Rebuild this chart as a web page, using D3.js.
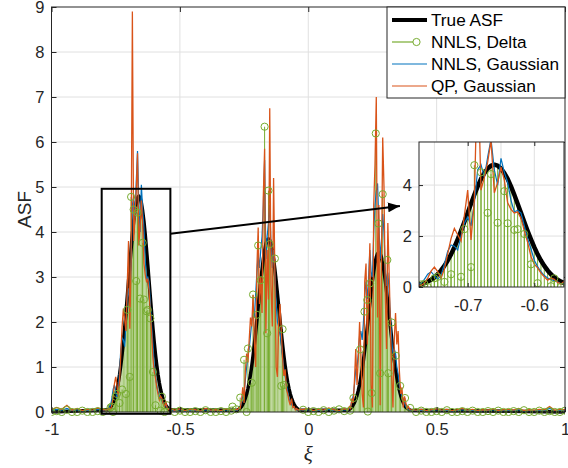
<!DOCTYPE html>
<html>
<head>
<meta charset="utf-8">
<script src="https://cdn.jsdelivr.net/npm/d3@7"></script>
<style>
body { margin: 0; background: #fff; }
svg { font-family: "Liberation Sans", Arial, sans-serif; }
</style>
</head>
<body>
<div id="chart"></div>
<script>
// ---- data ----
// the three peaks are sampled every 0.005 starting at peakStart
const step = 0.005;
const peakStart = [-0.78, -0.275, 0.155];

const trueP1 = [0.05,0.08,0.11,0.15,0.21,0.29,0.38,0.50,0.65,0.83,1.04,1.28,1.56,1.87,2.20,2.55,2.91,3.27,3.62,3.95,4.24,4.47,4.65,4.76,4.80,4.76,4.65,4.47,4.24,3.95,3.62,3.27,2.91,2.55,2.20,1.87,1.56,1.28,1.04,0.83,0.65,0.50,0.38,0.29,0.21,0.15,0.11,0.08,0.05];
const trueP2 = [0.04,0.06,0.09,0.12,0.17,0.23,0.31,0.40,0.52,0.66,0.83,1.03,1.25,1.50,1.76,2.04,2.34,2.63,2.91,3.17,3.40,3.59,3.73,3.82,3.85,3.82,3.73,3.59,3.40,3.17,2.91,2.63,2.34,2.04,1.76,1.50,1.25,1.03,0.83,0.66,0.52,0.40,0.31,0.23,0.17,0.12,0.09,0.06,0.04];
const trueP3 = [0.04,0.06,0.08,0.11,0.16,0.21,0.28,0.37,0.48,0.61,0.77,0.95,1.15,1.38,1.63,1.89,2.15,2.42,2.68,2.92,3.13,3.31,3.44,3.52,3.55,3.52,3.44,3.31,3.13,2.92,2.68,2.42,2.15,1.89,1.63,1.38,1.15,0.95,0.77,0.61,0.48,0.37,0.28,0.21,0.16,0.11,0.08,0.06,0.04];

const nnlsP1 = [0.05,0.10,0.15,0.30,0.50,0.60,0.45,0.30,0.45,0.90,1.40,1.65,1.60,1.45,2.00,2.50,2.75,2.40,3.30,4.60,4.80,4.30,5.10,5.80,4.60,4.00,5.05,4.50,4.10,3.40,2.95,3.00,2.90,2.40,1.90,1.50,1.05,0.80,0.60,0.45,0.35,0.30,0.25,0.20,0.12,0.15,0.10,0.06,0.05];
const nnlsP2 = [0.04,0.08,0.12,0.20,0.35,0.45,0.70,1.00,1.25,1.40,1.70,2.00,2.20,2.10,2.60,3.10,3.50,3.20,3.60,3.90,4.60,5.60,3.40,3.90,4.20,4.60,3.70,3.20,3.60,3.00,2.40,2.00,1.90,1.80,1.50,1.20,0.95,0.80,0.60,0.45,0.30,0.22,0.18,0.12,0.10,0.06,0.05,0.04,0.05];
const nnlsP3 = [0.04,0.08,0.12,0.25,0.35,0.60,0.95,1.00,1.30,1.70,1.80,1.60,2.00,2.60,2.90,2.50,3.00,3.60,3.10,3.00,4.00,4.60,4.90,5.08,4.20,3.40,3.80,4.40,4.00,3.20,2.80,3.10,2.70,2.10,1.60,1.30,1.40,1.30,1.00,0.85,0.60,0.45,0.35,0.25,0.20,0.12,0.08,0.06,0.04];

const qpP1 = [0.05,0.08,0.06,0.15,0.35,0.62,0.78,0.60,0.34,0.70,1.30,1.90,2.30,2.05,1.80,2.80,3.80,1.85,3.40,8.90,3.80,4.30,4.90,5.75,3.70,4.10,4.70,4.20,3.30,3.05,2.90,2.95,2.70,2.20,1.75,1.20,0.90,0.75,0.55,0.40,0.27,0.35,0.30,0.18,0.12,0.22,0.10,0.05,0.08];
const qpP2 = [0.05,0.10,0.08,0.25,0.55,0.20,0.90,1.30,1.10,1.60,2.10,1.90,2.60,1.60,1.00,3.20,4.10,2.40,3.00,2.20,4.80,5.85,1.75,3.60,2.50,6.75,2.80,1.90,5.20,3.10,1.00,0.78,2.00,2.40,1.80,1.20,0.80,0.95,0.50,0.40,0.25,0.15,0.30,0.10,0.12,0.05,0.08,0.04,0.06];
const qpP3 = [0.05,0.12,0.08,0.30,0.20,0.70,1.40,0.60,1.20,2.00,1.30,0.40,0.10,2.90,3.30,1.50,2.60,3.75,0.60,0.10,4.60,5.50,7.00,2.10,4.60,0.15,3.20,6.10,5.00,2.60,1.40,4.20,3.10,1.90,0.80,0.10,1.60,2.20,1.50,1.80,0.90,0.40,0.55,0.10,0.35,0.20,0.08,0.12,0.05];

// baseline between the peaks, every 0.02
const grid = (x0, n, dx) => d3.range(n).map(i => +(x0 + i * dx).toFixed(4));
const baseX = [...grid(-1, 11, 0.02), ...grid(-0.52, 13, 0.02), ...grid(-0.02, 9, 0.02), ...grid(0.42, 30, 0.02)];
const baseQp = [0.05,0.10,0.06,0.15,0.04,0.08,0.03,0.06,0.04,0.09,0.05,
  0.04,0.07,0.03,0.06,0.05,0.02,0.08,0.04,0.05,0.03,0.07,0.04,0.06,
  0.05,0.08,0.03,0.06,0.04,0.09,0.05,0.03,0.07,
  0.04,0.06,0.03,0.05,0.07,0.04,0.06,0.03,0.05,0.08,0.04,0.06,0.03,0.05,0.04,0.07,0.03,0.05,0.06,0.04,0.08,0.03,0.05,0.04,0.06,0.05,0.12,0.04,0.06,0.05];
const baseNnls = [0.03,0.06,0.04,0.08,0.03,0.05,0.02,0.04,0.03,0.06,0.04,
  0.03,0.05,0.02,0.04,0.03,0.02,0.05,0.03,0.04,0.02,0.05,0.03,0.04,
  0.04,0.05,0.02,0.04,0.03,0.06,0.03,0.02,0.05,
  0.03,0.04,0.02,0.03,0.05,0.03,0.04,0.02,0.03,0.05,0.03,0.04,0.02,0.03,0.03,0.05,0.02,0.03,0.04,0.03,0.05,0.02,0.03,0.03,0.04,0.03,0.08,0.03,0.04,0.03];
const baseDelta = [0.00,0.02,0.00,0.05,0.00,0.00,0.03,0.00,0.00,0.02,0.00,
  0.00,0.03,0.00,0.00,0.02,0.00,0.04,0.00,0.00,0.02,0.00,0.03,0.06,
  0.05,0.00,0.02,0.00,0.04,0.00,0.03,0.06,0.02,
  0.00,0.03,0.00,0.00,0.02,0.00,0.04,0.00,0.00,0.02,0.00,0.03,0.00,0.00,0.02,0.00,0.03,0.00,0.00,0.02,0.00,0.04,0.00,0.00,0.03,0.00,0.02,0.00,0.00,0.03];

// NNLS delta coefficients inside the peaks (circles)
const deltaX = [-0.770,-0.765,-0.760,-0.750,-0.745,-0.735,-0.725,-0.710,-0.705,-0.695,-0.690,-0.680,-0.670,-0.665,-0.655,-0.645,-0.640,-0.630,-0.625,-0.615,-0.605,-0.595,-0.575,-0.570,-0.560,-0.550,
  -0.295,-0.265,-0.250,-0.240,-0.235,-0.220,-0.215,-0.200,-0.195,-0.185,-0.170,-0.160,-0.155,-0.150,-0.130,-0.105,-0.100,-0.095,
  0.163,0.176,0.202,0.219,0.230,0.232,0.241,0.247,0.263,0.273,0.280,0.290,0.308,0.312,0.325,0.341,0.358,0.377,0.397];
const deltaY = [0.10,0.12,0.00,0.34,0.40,0.20,0.50,0.40,2.27,0.78,4.78,4.50,2.91,4.43,2.52,3.76,2.50,2.24,2.27,2.08,0.89,0.15,0.03,0.34,0.00,0.15,
  0.12,0.32,1.16,0.00,1.41,0.65,2.61,2.16,3.70,2.93,6.34,1.75,4.92,3.73,3.41,0.58,1.84,0.60,
  0.03,0.31,1.39,2.23,2.49,0.01,2.86,0.42,6.19,4.19,0.86,4.84,3.38,0.86,1.99,1.25,0.58,0.31,0.09];

const xTicks = [-1, -0.5, 0, 0.5, 1];
const yTicks = [0, 1, 2, 3, 4, 5, 6, 7, 8, 9];
const insetXTicks = [-0.7, -0.6];
const insetXGrid = [-0.75, -0.7, -0.65, -0.6];
const insetYTicks = [0, 2, 4];
const legendNames = ["True ASF", "NNLS, Delta", "NNLS, Gaussian", "QP, Gaussian"];

// zoom box and arrow, data units of the main axes
const zoomBox = { x0: -0.8045, x1: -0.537, y0: -0.04, y1: 4.96 };
const arrowFrom = [-0.537, 3.96];
const arrowTo = [0.357, 4.58];

// ---- build point lists ----
function peakPoints(peaks) {
    let pts = [];
    peaks.forEach((vals, p) => vals.forEach((v, i) => pts.push({ x: peakStart[p] + i * step, y: v })));
    return pts;
}
function withBase(peaks, base) {
    let pts = peakPoints(peaks).concat(baseX.map((x, i) => ({ x: x, y: base[i] })));
    return pts.sort((a, b) => a.x - b.x);
}

const truePts = [{ x: -1, y: 0 }].concat(peakPoints([trueP1, trueP2, trueP3]), [{ x: 1, y: 0 }]);
const stemPts = peakPoints([trueP1, trueP2, trueP3]);
const nnlsPts = withBase([nnlsP1, nnlsP2, nnlsP3], baseNnls);
const qpPts = withBase([qpP1, qpP2, qpP3], baseQp);
const deltaPts = deltaX.map((x, i) => ({ x: x, y: deltaY[i] }))
    .concat(baseX.map((x, i) => ({ x: x, y: baseDelta[i] })));

const colors = { truth: "#000000", delta: "#77AC30", nnls: "#0072BD", qp: "#D95319" };
const axisColor = "#262626";
const gridColor = "#e0e0e0";
const tickFont = "16.5px";

// ---- svg ----
const W = 568, H = 468;
const svg = d3.select("#chart").append("svg").attr("width", W).attr("height", H);

const main = { left: 51.5, top: 7, right: 565, bottom: 412 };
const ins = { left: 419, top: 142, right: 564, bottom: 287 };

const x = d3.scaleLinear().domain([-1, 1]).range([main.left, main.right]);
const y = d3.scaleLinear().domain([0, 9]).range([main.bottom, main.top]);
const xi = d3.scaleLinear().domain([-0.7731, -0.5554]).range([ins.left, ins.right]);
const yi = d3.scaleLinear().domain([0, 5.69]).range([ins.bottom, ins.top]);

const defs = svg.append("defs");
defs.append("clipPath").attr("id", "clipMain").append("rect")
    .attr("x", main.left).attr("y", main.top)
    .attr("width", main.right - main.left).attr("height", main.bottom - main.top + 4);
defs.append("clipPath").attr("id", "clipInset").append("rect")
    .attr("x", ins.left).attr("y", ins.top)
    .attr("width", ins.right - ins.left).attr("height", ins.bottom - ins.top);

function drawGrid(g, sx, sy, xs, ys, box) {
    g.selectAll(".gx").data(xs).join("line")
        .attr("x1", d => sx(d)).attr("x2", d => sx(d))
        .attr("y1", box.top).attr("y2", box.bottom)
        .attr("stroke", gridColor).attr("stroke-width", 1);
    g.selectAll(".gy").data(ys).join("line")
        .attr("x1", box.left).attr("x2", box.right)
        .attr("y1", d => sy(d)).attr("y2", d => sy(d))
        .attr("stroke", gridColor).attr("stroke-width", 1);
}

function drawData(g, sx, sy, opt) {
    g.append("g").selectAll("line").data(stemPts).join("line")
        .attr("x1", d => sx(d.x)).attr("x2", d => sx(d.x))
        .attr("y1", sy(0)).attr("y2", d => sy(d.y))
        .attr("stroke", colors.delta).attr("stroke-width", opt.stemWidth);
    g.append("g").selectAll("line").data(deltaPts).join("line")
        .attr("x1", d => sx(d.x)).attr("x2", d => sx(d.x))
        .attr("y1", sy(0)).attr("y2", d => sy(d.y))
        .attr("stroke", colors.delta).attr("stroke-width", 1);

    const line = d3.line().x(d => sx(d.x)).y(d => sy(d.y));
    g.append("path").datum(truePts).attr("d", line)
        .attr("fill", "none").attr("stroke", colors.truth)
        .attr("stroke-width", opt.blackWidth).attr("stroke-linejoin", "round");
    g.append("path").datum(nnlsPts).attr("d", line)
        .attr("fill", "none").attr("stroke", colors.nnls).attr("stroke-width", 1.2);
    g.append("path").datum(qpPts).attr("d", line)
        .attr("fill", "none").attr("stroke", colors.qp).attr("stroke-width", 1.3);

    g.append("g").selectAll("circle").data(deltaPts).join("circle")
        .attr("cx", d => sx(d.x)).attr("cy", d => sy(d.y)).attr("r", 3.6)
        .attr("fill", "none").attr("stroke", colors.delta).attr("stroke-width", 1);
}

// ---- main axes ----
const gridG = svg.append("g");
drawGrid(gridG, x, y, [-0.5, 0, 0.5], [1, 2, 3, 4, 5, 6, 7, 8], main);

const dataG = svg.append("g").attr("clip-path", "url(#clipMain)");
drawData(dataG, x, y, { stemWidth: 0.7, blackWidth: 3.5 });

function styleAxis(g) {
    g.select(".domain").remove();
    g.selectAll(".tick line").attr("stroke", axisColor);
    g.selectAll("text").attr("fill", axisColor).style("font-size", tickFont)
        .style("font-family", "'Liberation Sans', Arial, sans-serif");
}

svg.append("g").attr("transform", `translate(0,${main.bottom})`)
    .call(d3.axisBottom(x).tickValues(xTicks).tickFormat(d => String(d)).tickSize(-5).tickSizeOuter(0).tickPadding(11))
    .call(styleAxis);
svg.append("g").attr("transform", `translate(0,${main.top})`)
    .call(d3.axisTop(x).tickValues(xTicks).tickFormat("").tickSize(-5).tickSizeOuter(0))
    .call(styleAxis);
svg.append("g").attr("transform", `translate(${main.left},0)`)
    .call(d3.axisLeft(y).tickValues(yTicks).tickFormat(d => String(d)).tickSize(-5).tickSizeOuter(0).tickPadding(7))
    .call(styleAxis);
svg.append("g").attr("transform", `translate(${main.right},0)`)
    .call(d3.axisRight(y).tickValues(yTicks).tickFormat("").tickSize(-5).tickSizeOuter(0))
    .call(styleAxis);

svg.append("rect")
    .attr("x", main.left).attr("y", main.top)
    .attr("width", main.right - main.left).attr("height", main.bottom - main.top)
    .attr("fill", "none").attr("stroke", axisColor).attr("stroke-width", 1);

svg.append("text")
    .attr("transform", `translate(24,${(main.top + main.bottom) / 2}) rotate(-90)`)
    .attr("text-anchor", "middle").attr("dy", "0.35em")
    .attr("fill", axisColor).style("font-size", "19px")
    .text("ASF");
svg.append("text")
    .attr("x", x(0)).attr("y", 461)
    .attr("text-anchor", "middle")
    .attr("fill", axisColor)
    .style("font-family", "'Liberation Serif', 'DejaVu Serif', serif")
    .style("font-style", "italic").style("font-size", "21px")
    .text("ξ");

// zoom box and arrow
svg.append("rect")
    .attr("x", x(zoomBox.x0)).attr("y", y(zoomBox.y1))
    .attr("width", x(zoomBox.x1) - x(zoomBox.x0)).attr("height", y(zoomBox.y0) - y(zoomBox.y1))
    .attr("fill", "none").attr("stroke", "#000").attr("stroke-width", 2);

defs.append("marker").attr("id", "arrowHead")
    .attr("viewBox", "0 0 12 10").attr("refX", 12).attr("refY", 5)
    .attr("markerWidth", 12).attr("markerHeight", 10)
    .attr("markerUnits", "userSpaceOnUse").attr("orient", "auto")
    .append("path").attr("d", "M0,0 L12,5 L0,10 Z").attr("fill", "#000");
svg.append("line")
    .attr("x1", x(arrowFrom[0])).attr("y1", y(arrowFrom[1]))
    .attr("x2", x(arrowTo[0])).attr("y2", y(arrowTo[1]))
    .attr("stroke", "#000").attr("stroke-width", 2)
    .attr("marker-end", "url(#arrowHead)");

// ---- inset ----
svg.append("rect")
    .attr("x", ins.left).attr("y", ins.top)
    .attr("width", ins.right - ins.left).attr("height", ins.bottom - ins.top)
    .attr("fill", "#fff");
drawGrid(svg.append("g"), xi, yi, insetXGrid, [2, 4], ins);
drawData(svg.append("g").attr("clip-path", "url(#clipInset)"), xi, yi, { stemWidth: 1, blackWidth: 4.5 });

svg.append("g").attr("transform", `translate(0,${ins.bottom})`)
    .call(d3.axisBottom(xi).tickValues(insetXTicks).tickFormat(d => String(d)).tickSize(-4).tickSizeOuter(0).tickPadding(12))
    .call(styleAxis);
svg.append("g").attr("transform", `translate(0,${ins.top})`)
    .call(d3.axisTop(xi).tickValues(insetXTicks).tickFormat("").tickSize(-4).tickSizeOuter(0))
    .call(styleAxis);
svg.append("g").attr("transform", `translate(${ins.left},0)`)
    .call(d3.axisLeft(yi).tickValues(insetYTicks).tickFormat(d => String(d)).tickSize(-4).tickSizeOuter(0).tickPadding(7))
    .call(styleAxis);
svg.append("rect")
    .attr("x", ins.left).attr("y", ins.top)
    .attr("width", ins.right - ins.left).attr("height", ins.bottom - ins.top)
    .attr("fill", "none").attr("stroke", axisColor).attr("stroke-width", 1);

// ---- legend ----
const leg = svg.append("g");
leg.append("rect")
    .attr("x", 387).attr("y", main.top)
    .attr("width", main.right - 387).attr("height", 91)
    .attr("fill", "#fff").attr("stroke", axisColor).attr("stroke-width", 1);

const legColors = [colors.truth, colors.delta, colors.nnls, colors.qp];
const legWidths = [4, 1.2, 1.2, 1.2];
legendNames.forEach((name, i) => {
    const ly = 20 + i * 22;
    leg.append("line")
        .attr("x1", 392).attr("x2", i === 1 ? 413 : 427)
        .attr("y1", ly).attr("y2", ly)
        .attr("stroke", legColors[i]).attr("stroke-width", legWidths[i]);
    if (i === 1) {
        leg.append("circle").attr("cx", 416.5).attr("cy", ly).attr("r", 3.6)
            .attr("fill", "none").attr("stroke", colors.delta).attr("stroke-width", 1);
    }
    leg.append("text")
        .attr("x", 431).attr("y", ly).attr("dy", "0.36em")
        .attr("fill", "#000").style("font-size", "17.2px")
        .text(name);
});
</script>
</body>
</html>
